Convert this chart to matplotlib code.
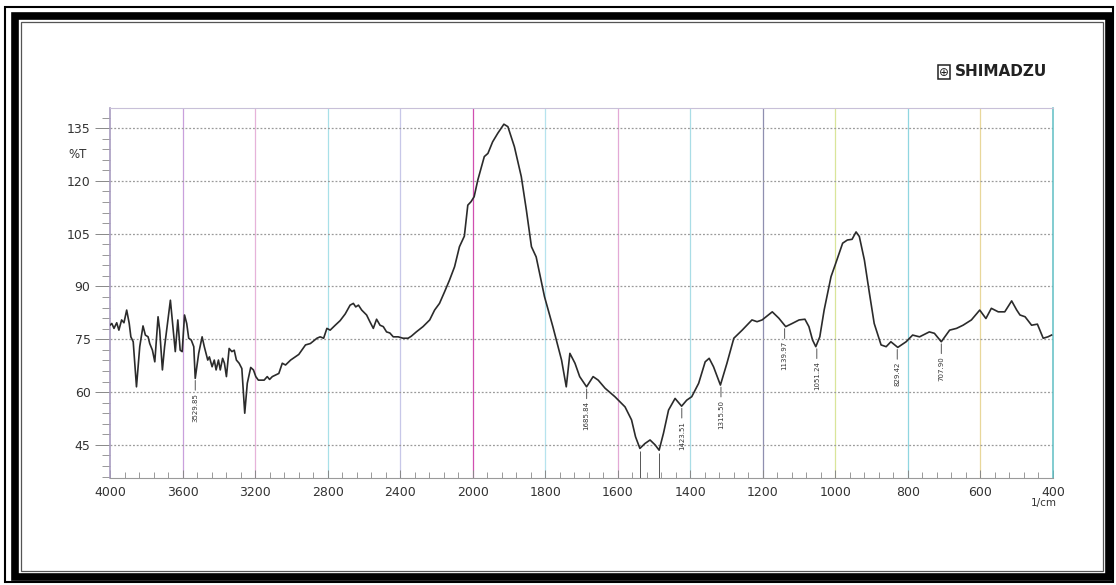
import numpy as np
import matplotlib
matplotlib.use('Agg')
import matplotlib.pyplot as plt
from matplotlib.patches import Rectangle
from matplotlib.ticker import FixedLocator

# ---------------- data ----------------
wavenumber = [
    4000, 3990, 3978, 3963, 3951, 3936, 3923, 3908, 3894, 3885, 3872, 3854, 3836,
    3818, 3805, 3790, 3781, 3766, 3753, 3735, 3726, 3711, 3699, 3684, 3667, 3653,
    3640, 3626, 3613, 3602, 3589, 3577, 3566, 3552, 3538, 3530, 3511, 3492, 3480,
    3461, 3452, 3437, 3425, 3415, 3402, 3392, 3379, 3369, 3358, 3343, 3328, 3315,
    3303, 3288, 3273, 3257, 3243, 3224, 3209, 3196, 3182, 3164, 3150, 3133, 3120,
    3105, 3069, 3050, 3032, 3004, 2959, 2922, 2895, 2859, 2841, 2822, 2804, 2786,
    2758, 2731, 2703, 2676, 2658, 2645, 2630, 2612, 2585, 2567, 2548, 2530, 2511,
    2493, 2475, 2457, 2438, 2411, 2384, 2356, 2338, 2311, 2274, 2237, 2210, 2183,
    2155, 2128, 2100, 2073, 2046, 2027, 2009, 1996, 1986, 1968, 1958, 1945, 1931,
    1914, 1903, 1885, 1866, 1852, 1838, 1825, 1802, 1779, 1755, 1742, 1732, 1718,
    1705, 1686, 1668, 1654, 1635, 1608, 1580, 1562, 1551, 1539, 1525, 1511, 1497,
    1486, 1474, 1460, 1442, 1424, 1410, 1396, 1377, 1359, 1348, 1336, 1317, 1299,
    1280, 1257, 1230, 1216, 1202, 1174, 1156, 1137, 1119, 1100, 1084, 1073, 1063,
    1054, 1043, 1031, 1012, 999, 980, 967, 954, 943, 934, 920, 906, 893, 874, 860,
    847, 828, 805, 787, 768, 741, 727, 708, 685, 666, 648, 625, 602, 585, 570, 551,
    533, 514, 500, 491, 477, 459, 443, 427, 414, 404,
]
transmittance = [
    79.0, 79.5, 78.1, 79.7, 77.6, 80.5, 79.7, 83.3, 79.5, 75.7, 74.3, 61.5, 72.9,
    78.8, 76.2, 75.7, 73.8, 71.9, 68.6, 81.4, 77.6, 66.3, 72.9, 79.0, 86.1, 78.6,
    71.5, 80.5, 71.9, 71.5, 81.9, 79.5, 75.3, 74.8, 72.9, 63.9, 71.0, 75.7, 72.9,
    69.1, 70.0, 67.2, 69.1, 66.3, 69.1, 66.3, 69.6, 68.2, 64.4, 72.4, 71.5, 71.9,
    69.1, 68.2, 66.7, 54.0, 62.5, 67.0, 66.3, 64.4, 63.4, 63.4, 63.4, 64.4, 63.6,
    64.4, 65.3, 68.2, 67.7, 69.1, 70.7, 73.4, 73.8, 75.3, 75.7, 75.3, 78.1, 77.6,
    79.0, 80.3, 82.2, 84.7, 85.2, 84.2, 84.7, 83.3, 81.9, 80.0, 78.1, 80.7, 79.0,
    78.6, 77.1, 76.8, 75.7, 75.7, 75.3, 75.3, 75.9, 77.1, 78.6, 80.5, 83.3, 85.2,
    88.5, 91.8, 95.6, 101.3, 104.3, 113.1, 114.1, 115.5, 120.2, 126.9, 127.8, 131.1, 133.5,
    136.1, 135.4, 129.7, 121.2, 111.7, 101.3, 98.4, 87.1, 78.6, 69.1, 61.5, 71.0, 68.2,
    64.4, 61.5, 64.4, 63.4, 61.1, 58.7, 55.8, 52.1, 47.3, 44.0, 45.4, 46.4, 45.0,
    43.5, 48.3, 54.9, 58.2, 56.0, 57.7, 58.7, 62.5, 68.6, 69.6, 67.2, 62.0, 68.2,
    75.3, 77.6, 80.5, 80.0, 80.5, 82.8, 81.0, 78.6, 79.5, 80.5, 80.7, 78.6, 74.8,
    72.9, 75.7, 83.3, 92.8, 96.6, 102.3, 103.2, 103.4, 105.5, 104.2, 97.5, 88.0, 79.5, 73.4, 72.9,
    74.3, 72.7, 74.3, 76.2, 75.7, 77.1, 76.7, 74.3, 77.6, 78.1, 79.0, 80.5, 83.3, 80.9, 83.8, 82.8,
    82.8, 85.9, 83.3, 81.9, 81.4, 79.0, 79.3, 75.3, 75.7, 76.2,
]

peak_wn = [3529.85, 1685.84, 1423.51, 1315.50, 1139.97, 1051.24, 829.42, 707.90]
peak_T = [63.9, 61.5, 56.0, 62.0, 78.6, 72.9, 72.7, 74.3]
peak_labels = ["3529.85", "1685.84", "1423.51", "1315.50", "1139.97", "1051.24", "829.42", "707.90"]

unlabeled_wn = [1539, 1486]
unlabeled_T = [44.0, 43.5]

x_ticks = [4000, 3600, 3200, 2800, 2400, 2000, 1800, 1600, 1400, 1200, 1000, 800, 600, 400]
y_ticks = [45, 60, 75, 90, 105, 120, 135]

# ---------------- figure ----------------
W, H = 1116, 585
fig = plt.figure(figsize=(W / 100, H / 100), dpi=100)
fig.patch.set_facecolor('white')


def fx(px):
    return px / W


def fy(py):
    return 1 - py / H


# double frame border
def frame(x0, y0, x1, y1, lw, color):
    fig.add_artist(Rectangle((fx(x0), fy(y1)), fx(x1) - fx(x0), fy(y0) - fy(y1),
                             transform=fig.transFigure, fill=False,
                             lw=lw, edgecolor=color, zorder=10))


frame(5, 7, 1113, 582, 1.5, 'black')
frame(14.5, 15.5, 1108.5, 577, 5.5, 'black')
frame(20.5, 21.5, 1102.5, 571, 0.9, '#555555')

ax = fig.add_axes([fx(110), fy(478), fx(1053) - fx(110), fy(108) - fy(478)])
ax.set_facecolor('white')


# two-scale wavenumber axis (scale doubles below 2000 cm-1)
def fwd(w):
    w = np.asarray(w, dtype=float)
    return np.where(w >= 2000, w, 2 * w - 2000)


def inv(v):
    v = np.asarray(v, dtype=float)
    return np.where(v >= 2000, v, (v + 2000) / 2)


ax.set_xscale('function', functions=(fwd, inv))
ax.set_xlim(4000, 400)
ax.set_ylim(35.6, 140.7)

# grid
grid_colors = ['#c9a0dc', '#e6b3d9', '#a8e0e8', '#c7c7e8', '#d04fb0', '#b6e3ee',
               '#e3a9d6', '#a9dde6', '#8f8fb0', '#d9e59a', '#8fd6e0', '#e8d79a']
for xv, c in zip(x_ticks[1:-1], grid_colors):
    ax.axvline(xv, color=c, lw=0.9, zorder=1)
for yv in y_ticks:
    ax.axhline(yv, color='#9a9a9a', lw=0.9, ls=(0, (1.5, 1.5)), zorder=1)

# spectrum
ax.plot(wavenumber, transmittance, color='#2b2b2b', lw=1.2, zorder=3,
        solid_joinstyle='round')

# peak labels
for w, t, lab in zip(peak_wn, peak_T, peak_labels):
    ax.annotate(lab, xy=(w, t - 0.6), xytext=(0, -9), textcoords='offset points',
                rotation=90, ha='center', va='top', fontsize=5, color='#333333',
                arrowprops=dict(arrowstyle='-', color='#555555', lw=0.7,
                                shrinkA=0, shrinkB=0, relpos=(0.5, 1.0)),
                zorder=4)
ax.vlines(unlabeled_wn, 35.6, np.array(unlabeled_T) - 0.8, color='#555555', lw=0.7, zorder=4)

# spines
ax.spines['left'].set_color('#a89cc0')
ax.spines['left'].set_linewidth(1.2)
ax.spines['bottom'].set_color('#9a9a9a')
ax.spines['top'].set_color('#c8c0d8')
ax.spines['top'].set_linewidth(0.8)
ax.spines['right'].set_color('#5fbfc4')
ax.spines['right'].set_linewidth(1.1)

# ticks
ax.set_xticks(x_ticks)
ax.set_xticklabels([str(v) for v in x_ticks])
minor_x = list(np.arange(4000, 2000, -80)) + list(np.arange(2000, 400, -40))
ax.xaxis.set_minor_locator(FixedLocator(minor_x))
ax.tick_params(axis='x', which='major', direction='in', length=6, width=0.7,
               color='#888888', labelsize=9, labelcolor='#333333', pad=6)
ax.tick_params(axis='x', which='minor', direction='in', length=4, width=0.6,
               color='#888888')

ax.set_yticks(y_ticks)
ax.set_yticklabels([str(v) for v in y_ticks])
ax.yaxis.set_minor_locator(FixedLocator(list(np.arange(36, 141, 3))))
ax.tick_params(axis='y', which='major', direction='out', length=11, width=0.7,
               color='#888888', labelsize=9, labelcolor='#333333', pad=3)
ax.tick_params(axis='y', which='minor', direction='out', length=6, width=0.6,
               color='#888888')

# axis texts
fig.text(fx(87), fy(155), '%T', ha='right', va='center', fontsize=8.5, color='#333333')
fig.text(fx(1057), fy(503), '1/cm', ha='right', va='center', fontsize=7.5, color='#333333')

# SHIMADZU logo text
fig.text(fx(944), fy(72), '⊕', ha='center', va='center', fontsize=8.5, color='#222222',
         bbox=dict(boxstyle='square,pad=0.08', fc='white', ec='#222222', lw=1.1))
fig.text(fx(955), fy(72), 'SHIMADZU', ha='left', va='center',
         fontsize=11, fontweight='bold', color='#222222')

fig.savefig('out.png', dpi=100, facecolor='white')
